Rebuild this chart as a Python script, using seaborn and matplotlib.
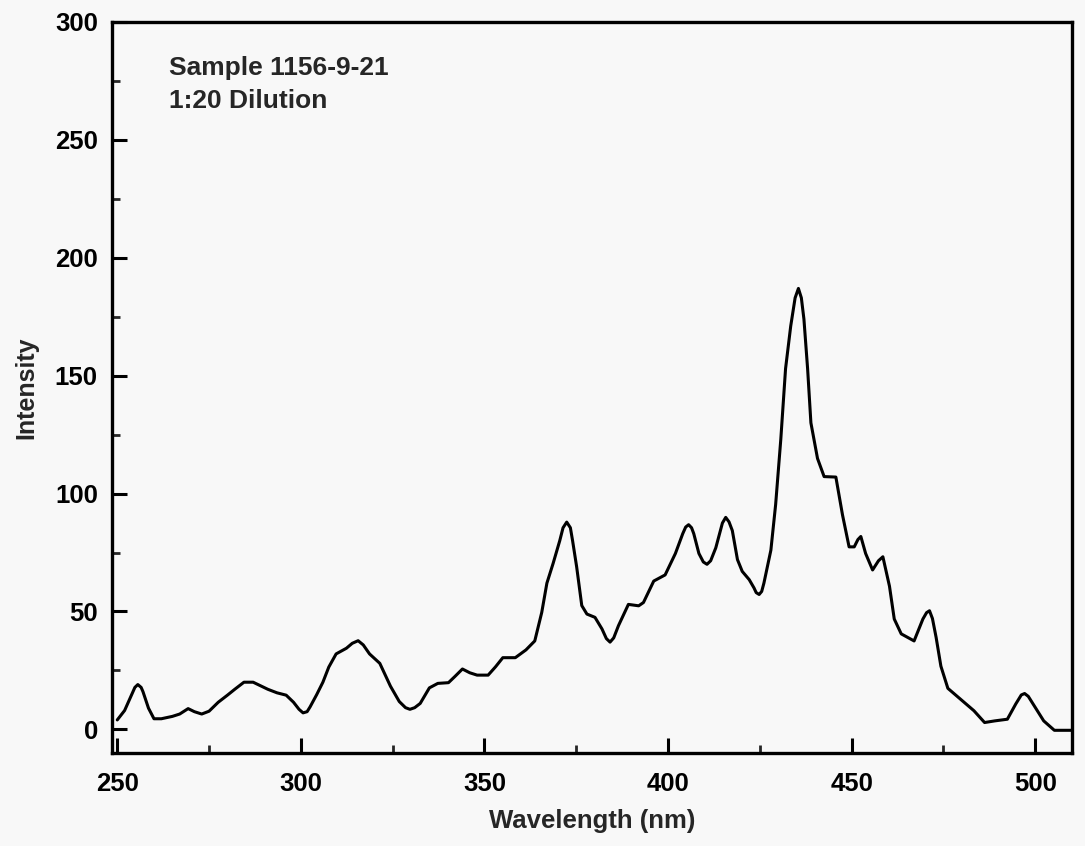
import matplotlib
matplotlib.use("Agg")
import matplotlib.pyplot as plt
import seaborn as sns
import pandas as pd
from matplotlib.ticker import MultipleLocator

# spectrum
wavelength = [250, 252, 254, 254.8, 255.6, 256.5, 257, 258.5, 260, 262, 265, 267, 269.3, 271,
              273, 275, 277.5, 280, 282, 284.5, 287, 289, 291, 293.5, 296, 298, 299.5, 300.6,
              301.7, 302.5, 304.3, 306, 307.6, 309.6, 312.4, 314, 315.6, 317, 318.7, 321.5,
              323, 324.4, 326.8, 328.5, 329.7, 331, 332.5, 335, 337.3, 340.2, 342, 344, 346,
              348, 351, 353, 355, 358.4, 361.3, 363.7, 365.6, 367, 368.7, 370.5, 371.4, 372.4,
              373.4, 374, 375.1, 376.5, 377.9, 380.1, 382, 383.2, 384.2, 385.2, 386.5, 389.2,
              392, 393.3, 396.1, 399.2, 402, 404, 404.8, 405.6, 406.4, 407, 408.4, 409.6,
              410.6, 411.6, 413, 414.8, 415.7, 416.6, 417.5, 418.9, 420.2, 422.1, 423.4, 424,
              424.8, 425.5, 426.1, 428, 429.3, 430.7, 432, 433.4, 434.6, 435.5, 436.3, 437,
              438, 438.9, 440.7, 442.5, 445.7, 447.5, 449.3, 450.7, 451.7, 452.5, 453.8, 455.7,
              457.3, 458.5, 460.3, 461.6, 463.5, 467, 469.4, 470.4, 471.2, 472, 473, 474.3,
              476.2, 479.5, 483.3, 486.2, 489, 492.4, 494.7, 496.2, 497.1, 498.1, 499.4,
              502.3, 505.2, 509.9]
intensity = [4, 8, 15, 17.8, 19, 17.8, 16, 9, 4.5, 4.5, 5.5, 6.5, 8.8, 7.5,
             6.5, 7.7, 11.5, 14.5, 17, 20, 20, 18.5, 17, 15.5, 14.5, 11.5, 8.5, 7,
             7.5, 9.5, 14.7, 20, 26.4, 32, 34.4, 36.5, 37.6, 35.8, 32, 28,
             23, 18.3, 11.8, 9.2, 8.5, 9.2, 11, 17.6, 19.5, 19.8, 22.5, 25.6, 24,
             23, 23, 26.5, 30.4, 30.4, 33.7, 37.5, 49.6, 62, 70.4, 80, 85.5, 87.9,
             85.5, 80, 69, 52.5, 48.9, 47.5, 42.6, 38.5, 37, 38.8, 44, 53,
             52.4, 53.8, 62.9, 65.5, 74.6, 83, 85.8, 86.8, 85.5, 83, 74.6, 71,
             70, 71.5, 77, 87.5, 89.9, 88, 84.3, 72, 67, 63.5, 60, 58,
             57.2, 58.5, 62, 76, 95.4, 123, 153, 171, 183, 187, 183, 174,
             153, 130, 114.9, 107.2, 107, 91, 77.4, 77.4, 80.5, 81.8, 74.6, 67.6,
             71.5, 73.2, 60.7, 46.8, 40.5, 37.5, 46.8, 49.5, 50.3, 47, 39, 26.8,
             17.4, 13, 7.9, 2.9, 3.6, 4.3, 10.8, 14.6, 15.2, 14, 10.8,
             3.6, -0.4, -0.4]

x_ticks = [250, 300, 350, 400, 450, 500]
y_ticks = [0, 50, 100, 150, 200, 250, 300]
note_lines = ["Sample 1156-9-21", "1:20 Dilution"]

df = pd.DataFrame({"Wavelength (nm)": wavelength, "Intensity": intensity})

sns.set_theme(style="ticks")
plt.rcParams["font.family"] = ["Liberation Sans", "DejaVu Sans"]

fig = plt.figure(figsize=(10.85, 8.46), dpi=100, facecolor="#f8f8f8")
ax = fig.add_axes([0.103, 0.110, 0.885, 0.864])
ax.set_facecolor("#f8f8f8")

sns.lineplot(data=df, x="Wavelength (nm)", y="Intensity", color="black",
             linewidth=2.2, ax=ax, sort=False, solid_joinstyle="round")

ax.set_xlim(248.5, 510)
ax.set_ylim(-10, 298)
ax.set_xticks(x_ticks)
ax.set_yticks(y_ticks)
ax.xaxis.set_minor_locator(MultipleLocator(25))
ax.yaxis.set_minor_locator(MultipleLocator(25))
ax.tick_params(which="major", direction="in", length=11, width=2.2,
               labelsize=18.5, pad=14, colors="black")
ax.tick_params(which="minor", direction="in", length=6, width=2)
ax.tick_params(axis="y", which="major", pad=10)
ax.tick_params(right=False, top=False, which="both")
for lbl in ax.get_xticklabels() + ax.get_yticklabels():
    lbl.set_fontweight("bold")

for side in ["left", "right", "top", "bottom"]:
    ax.spines[side].set_visible(True)
    ax.spines[side].set_linewidth(2.4)
    ax.spines[side].set_color("black")

ax.set_xlabel("Wavelength (nm)", fontsize=18.5, fontweight="bold", labelpad=9)
ax.set_ylabel("Intensity", fontsize=18, fontweight="bold", labelpad=12)

ax.text(0.06, 0.953, "\n".join(note_lines), transform=ax.transAxes,
        fontsize=19, fontweight="bold", va="top", ha="left", linespacing=1.45)

fig.savefig("out.png", dpi=100, facecolor=fig.get_facecolor())
